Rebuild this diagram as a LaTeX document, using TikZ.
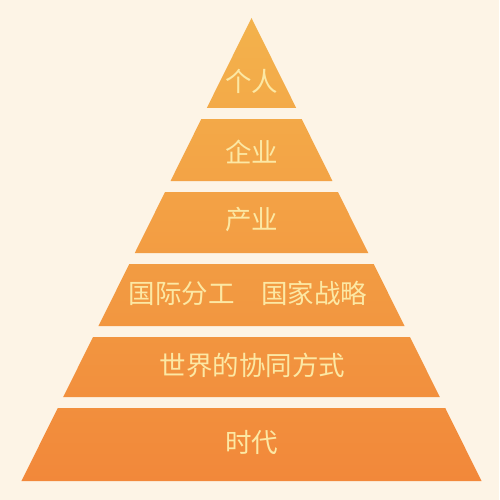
\documentclass[tikz,border=0pt]{standalone}
\usepackage{fontspec}
\newfontfamily\cjk{Noto Sans CJK SC}
\definecolor{bgc}{RGB}{253,244,230}
\definecolor{ctop}{RGB}{243,178,76}
\definecolor{cbot}{RGB}{242,136,58}
\definecolor{txt}{RGB}{252,232,164}
\tikzset{lbl/.style={font=\cjk\fontsize{26.5}{26.5}\selectfont, text=txt, inner sep=0pt, anchor=center}}
\newcommand\layer[4]{% ytop, ybot, ptop, pbot
  \shade[top color=cbot!#3!ctop, bottom color=cbot!#4!ctop]
    ({251.5-0.4968*(#1-18)},#1) -- ({251.5+0.4968*(#1-18)},#1) --
    ({251.5+0.4968*(#2-18)},#2) -- ({251.5-0.4968*(#2-18)},#2) -- cycle;}
\begin{document}
\begin{tikzpicture}[x=1pt,y=-1pt]
\fill[bgc] (0,0) rectangle (499,500);
\useasboundingbox (0,0) rectangle (499,500);
\shade[top color=ctop, bottom color=cbot!19!ctop]
  (251.5,18) -- ({251.5+0.4968*90},108) -- ({251.5-0.4968*90},108) -- cycle;
\layer{119}{181}{22}{35}
\layer{192}{253}{38}{51}
\layer{264}{326}{53}{66}
\layer{337}{397}{69}{82}
\layer{408}{481}{84}{100}
\node[lbl] (t1) at (251.5,81) {个人};
\node[lbl] (t2) at (251.5,152) {企业};
\node[lbl] (t3) at (251.5,220) {产业};
\node[lbl] (t4) at (248,293) {国际分工\hspace{1em}国家战略};
\node[lbl] (t5) at (252.5,365) {世界的协同方式};
\node[lbl] (t6) at (251.5,443) {时代};
\end{tikzpicture}
\end{document}
